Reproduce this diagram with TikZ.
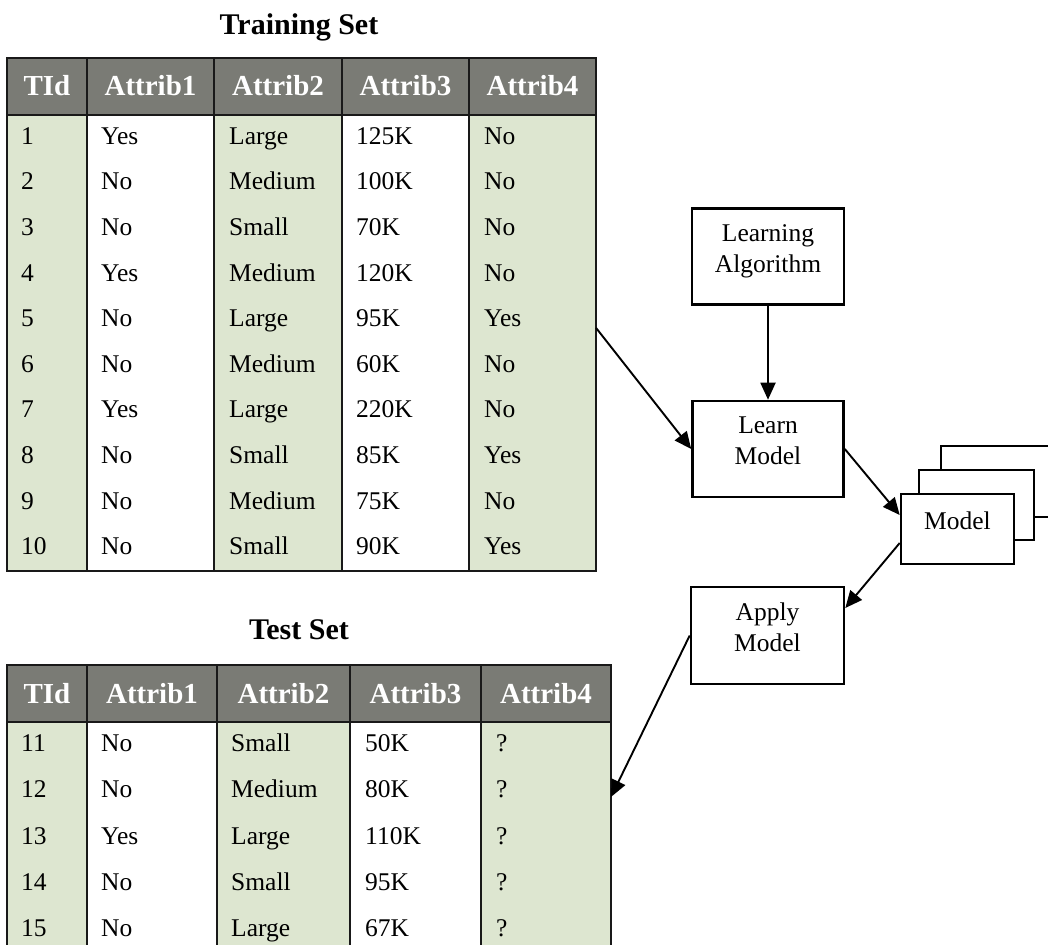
\documentclass[tikz,border=0pt]{standalone}
\usepackage{fontspec}
\setmainfont{Liberation Serif}
\usetikzlibrary{arrows.meta,calc}
\definecolor{hdr}{RGB}{122,123,117}
\definecolor{sage}{RGB}{221,230,208}
\newcommand{\liftedtext}[1]{\raisebox{6pt}[\height][\depth]{\begin{tabular}{@{}c@{}}#1\end{tabular}}}
\begin{document}
\begin{tikzpicture}[x=1pt,y=-1pt,
  tline/.style={line width=1.9pt, draw=black!90},
  frame/.style={tline, rectangle, inner sep=0pt, outer sep=0pt, anchor=north west},
  cell/.style={anchor=base west, inner sep=0pt, font=\fontsize{25.5}{30}\selectfont},
  head/.style={anchor=base, inner sep=0pt, text=white, font=\fontsize{29}{34}\selectfont\bfseries},
  title/.style={anchor=base, inner sep=0pt, font=\fontsize{30}{35}\selectfont\bfseries},
  box/.style={draw, line width=2.6pt, fill=white, inner sep=0pt, font=\fontsize{25.5}{31}\selectfont},
  conn/.style={line width=1.9pt, -{Triangle[length=17pt,width=15pt]}}
]
\useasboundingbox (0,0) rectangle (1048,944);
\clip (0,0) rectangle (1048,944);

% ---------------- Training set ----------------
\node[title] (trtitle) at (299,34.5) {Training Set};
\fill[sage] (7,115) rectangle (87,571);
\fill[sage] (214,115) rectangle (342,571);
\fill[sage] (469,115) rectangle (596,571);
\fill[hdr] (7,58) rectangle (596,115);
\node[frame, minimum width=589pt, minimum height=513pt] (train) at (7,58) {};
\draw[tline] (7,115) -- (596,115);
\foreach \x in {87,214,342,469} \draw[tline] (\x,58) -- (\x,571);
\foreach \t/\x [count=\j] in {TId/47, Attrib1/150.5, Attrib2/278, Attrib3/405.5, Attrib4/532.5}
  \node[head] (trh-\j) at (\x,96) {\t};
\foreach \a/\b/\c/\d/\e [count=\i] in {
  1/Yes/Large/125K/No, 2/No/Medium/100K/No, 3/No/Small/70K/No,
  4/Yes/Medium/120K/No, 5/No/Large/95K/Yes, 6/No/Medium/60K/No,
  7/Yes/Large/220K/No, 8/No/Small/85K/Yes, 9/No/Medium/75K/No,
  10/No/Small/90K/Yes} {
  \pgfmathsetmacro\yy{115+45.6*(\i-0.5)+6.5}
  \node[cell] (tr-\i-1) at (21,\yy) {\a};
  \node[cell] (tr-\i-2) at (101,\yy) {\b};
  \node[cell] (tr-\i-3) at (229,\yy) {\c};
  \node[cell] (tr-\i-4) at (356,\yy) {\d};
  \node[cell] (tr-\i-5) at (484,\yy) {\e};
}

% ---------------- Test set ----------------
\node[title] (tetitle) at (299,639) {Test Set};
\fill[sage] (7,722) rectangle (87,960);
\fill[sage] (217,722) rectangle (350,960);
\fill[sage] (481,722) rectangle (611,960);
\fill[hdr] (7,665) rectangle (611,722);
\node[frame, minimum width=604pt, minimum height=290pt] (test) at (7,665) {};
\draw[tline] (7,722) -- (611,722);
\foreach \x in {87,217,350,481} \draw[tline] (\x,665) -- (\x,960);
\foreach \t/\x [count=\j] in {TId/47, Attrib1/152, Attrib2/283.5, Attrib3/415.5, Attrib4/546}
  \node[head] (teh-\j) at (\x,703) {\t};
\foreach \a/\b/\c/\d/\e [count=\i] in {
  11/No/Small/50K/?, 12/No/Medium/80K/?, 13/Yes/Large/110K/?,
  14/No/Small/95K/?, 15/No/Large/67K/?} {
  \pgfmathsetmacro\yy{722+46.3*(\i-0.5)+6.5}
  \node[cell] (te-\i-1) at (21,\yy) {\a};
  \node[cell] (te-\i-2) at (101,\yy) {\b};
  \node[cell] (te-\i-3) at (231,\yy) {\c};
  \node[cell] (te-\i-4) at (365,\yy) {\d};
  \node[cell] (te-\i-5) at (496,\yy) {\e};
}

% ---------------- Process boxes ----------------
\node[box, minimum width=152pt, minimum height=96pt] (la) at (768,256.5) {\liftedtext{Learning\\Algorithm}};
\node[box, minimum width=151pt, minimum height=96pt] (lm) at (768,449) {\liftedtext{Learn\\Model}};
\node[box, minimum width=153pt, minimum height=97pt] (apply) at (767.5,635.5) {\liftedtext{Apply\\Model}};

\node[box, minimum width=115pt, minimum height=71pt] (mback) at (998.5,481.5) {};
\node[box, minimum width=115pt, minimum height=70pt] (mmid) at (976.5,505) {};
\node[box, minimum width=113pt, minimum height=70pt] (model) at (957.5,529) {\liftedtext{Model}};

% ---------------- Connectors ----------------
\draw[conn] ($(train.north east)!0.526!(train.south east)$) -- (lm.west);
\draw[conn] (la.south) -- (lm.north);
\draw[conn] (lm.east) -- ([yshift=14pt]model.west);
\draw[conn] ([yshift=-14pt]model.west) -- ([yshift=27.5pt]apply.east);
\draw[conn] (apply.west) -- ($(test.north east)!0.455!(test.south east)$);
\end{tikzpicture}
\end{document}
